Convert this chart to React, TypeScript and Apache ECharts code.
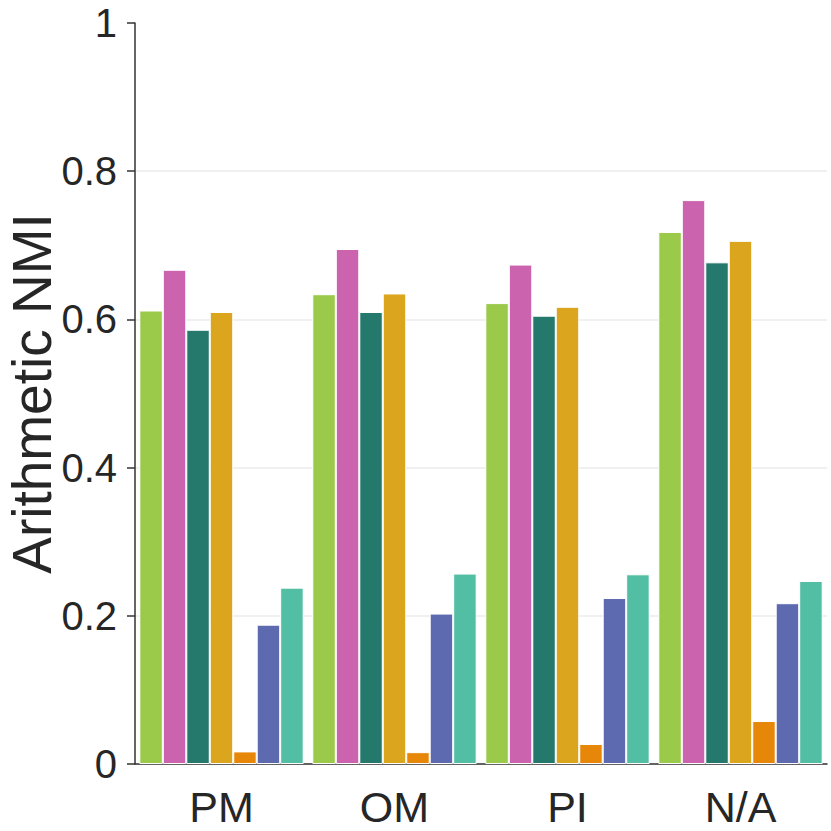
import React, { useEffect, useRef } from "react";
import * as echarts from "echarts";

const categories = ["PM", "OM", "PI", "N/A"];
const seriesNames = ["S1", "S2", "S3", "S4", "S5", "S6", "S7"];
const seriesColors = ["#9bc94a", "#cc63ae", "#24786c", "#dba51e", "#e6870a", "#5e6ab0", "#52bea3"];
const s1 = [0.612, 0.634, 0.622, 0.718];
const s2 = [0.667, 0.695, 0.674, 0.761];
const s3 = [0.586, 0.61, 0.605, 0.677];
const s4 = [0.61, 0.635, 0.617, 0.706];
const s5 = [0.017, 0.016, 0.027, 0.058];
const s6 = [0.188, 0.203, 0.224, 0.217];
const s7 = [0.238, 0.257, 0.256, 0.247];
const seriesValues = [s1, s2, s3, s4, s5, s6, s7];
const yTicks = ["0", "0.2", "0.4", "0.6", "0.8", "1"];

const FONT = "Liberation Sans";

export default function App() {
  const ref = useRef<HTMLDivElement>(null);
  useEffect(() => {
    if (!ref.current) return;
    const chart = echarts.init(ref.current, undefined, { renderer: "svg" });
    chart.setOption({
      animation: false,
      grid: { left: 135, right: 4, top: 23, bottom: 67, containLabel: false, outerBoundsMode: "none" },
      xAxis: {
        type: "category",
        data: categories,
        axisLine: { lineStyle: { color: "#333333", width: 1.5 } },
        axisTick: { alignWithLabel: true, length: 8, lineStyle: { color: "#333333", width: 1.5 } },
        axisLabel: { fontFamily: FONT, fontSize: 43, color: "#262626", margin: 21 },
      },
      yAxis: {
        type: "value",
        min: 0,
        max: 1,
        interval: 0.2,
        name: "Arithmetic NMI",
        nameLocation: "middle",
        nameGap: 76,
        nameMoveOverlap: false,
        nameTextStyle: { fontFamily: FONT, fontSize: 55, color: "#262626" },
        axisLine: { show: true, lineStyle: { color: "#333333", width: 1.5 } },
        axisTick: { show: true, length: 8, lineStyle: { color: "#333333", width: 1.5 } },
        axisLabel: {
          fontFamily: FONT,
          fontSize: 40,
          color: "#262626",
          margin: 18,
          formatter: (v: number) => yTicks[Math.round(v / 0.2)] ?? String(v),
        },
        splitLine: {
          show: true,
          lineStyle: {
            color: ["#ebebeb", "#ebebeb", "#ebebeb", "#ebebeb", "#ebebeb", "rgba(0,0,0,0)"],
            width: 1.5,
          },
        },
      },
      series: seriesValues.map((vals, i) => ({
        name: seriesNames[i],
        type: "bar",
        data: vals,
        barGap: "0%",
        barCategoryGap: "5%",
        itemStyle: { color: seriesColors[i], borderColor: "#ffffff", borderWidth: 1 },
      })),
    });
    return () => chart.dispose();
  }, []);
  return <div ref={ref} style={{ width: 831, height: 831, position: "absolute", left: 0, top: 0 }} />;
}
